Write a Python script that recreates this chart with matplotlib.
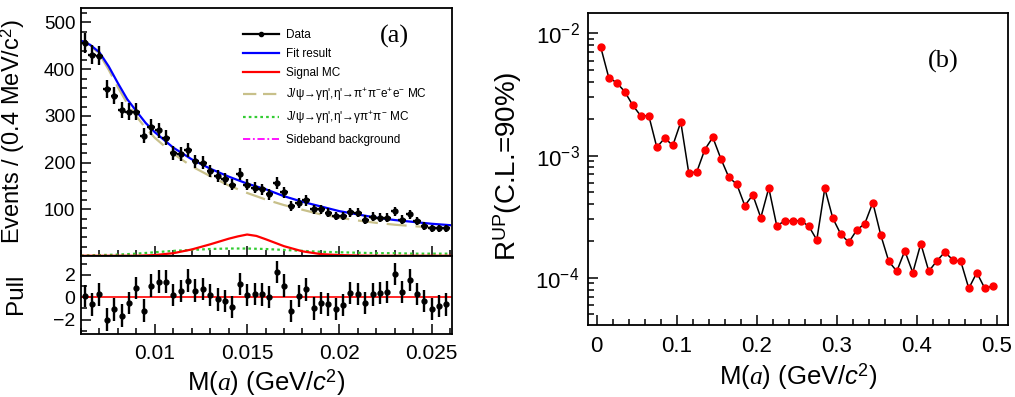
import numpy as np
import matplotlib
matplotlib.use("Agg")
import matplotlib.pyplot as plt
from matplotlib.lines import Line2D
from matplotlib.ticker import MultipleLocator, LogLocator, LogFormatterMathtext, NullFormatter

plt.rcParams["font.family"] = ["Liberation Sans", "DejaVu Sans"]
plt.rcParams["mathtext.fontset"] = "custom"
plt.rcParams["mathtext.rm"] = "Liberation Sans"
plt.rcParams["mathtext.it"] = "Liberation Serif:italic"
plt.rcParams["mathtext.sf"] = "Liberation Sans:italic"

# (a) M(a) spectrum, 0.4 MeV bins
bin_centers = np.round(np.arange(0.0062, 0.0260, 0.0004), 4)
events = [457, 431, 429, 358, 343, 313, 309, 309, 257, 276,
          269, 253, 221, 219, 226, 203, 200, 182, 171, 164,
          153, 175, 153, 146, 143, 132, 157, 136, 107, 114,
          119, 100, 100, 93, 86, 86, 94, 93, 78, 84,
          82, 82, 96, 78, 89, 75, 64, 59, 59, 59]
pulls = [0.1, -0.65, 0.25, -2.0, -1.1, -1.65, -0.5, 0.85, -1.2, 1.05,
         1.4, 1.4, 0.2, 0.55, 1.5, 0.6, 0.75, 0.2, -0.2, -0.35,
         -0.85, 1.2, 0.2, 0.3, 0.25, 0.0, 2.25, 1.05, -1.25, 0.1,
         0.7, -1.0, -0.5, -0.65, -1.05, -0.7, 0.4, 0.3, -0.5, 0.25,
         0.4, 0.5, 2.1, 0.5, 1.55, 0.3, -0.35, -1.05, -0.8, -0.65]

curve_x = [0.006, 0.0065, 0.007, 0.0075, 0.008, 0.0085, 0.009, 0.0095, 0.010,
           0.011, 0.012, 0.013, 0.014, 0.015, 0.016, 0.017, 0.018, 0.019,
           0.020, 0.021, 0.022, 0.023, 0.024, 0.025, 0.026]
fit_total = [461, 452, 436, 406, 370, 336, 310, 285, 265,
             232, 207, 187, 170, 155, 143, 128, 116, 106,
             96, 89, 82, 77, 73, 69, 66]
bkg_eeMC = [461, 452, 432, 399, 361, 327, 299, 274, 253,
            219, 192, 171, 151, 135, 121, 109, 99, 89,
            82, 76, 71, 67, 64, 61, 59]
bkg_gpipiMC = [1, 1.5, 2, 2.5, 3, 4, 5, 6.5, 8,
               11, 13, 15, 16, 16, 15, 13, 11, 9,
               8, 7, 6, 6, 5, 5, 5]
sideband = [0.8] * len(curve_x)

sig_x = [0.006, 0.009, 0.010, 0.011, 0.012, 0.013, 0.014, 0.0145, 0.015,
         0.0155, 0.016, 0.017, 0.018, 0.019, 0.020, 0.021, 0.022, 0.026]
signal_mc = [0.5, 0.5, 2, 6, 14, 25, 37, 42, 46,
             43, 36, 21, 10, 4, 2, 1, 0.5, 0.5]

# (b) upper limits on the ratio
mass_b = np.round(np.arange(0.005, 0.5, 0.01), 3)
r_up = [7.68e-3, 4.34e-3, 3.95e-3, 3.33e-3, 2.58e-3, 2.11e-3, 2.12e-3, 1.17e-3, 1.39e-3, 1.21e-3,
        1.88e-3, 7.18e-4, 7.36e-4, 1.12e-3, 1.41e-3, 9.45e-4, 6.65e-4, 5.82e-4, 3.89e-4, 4.76e-4,
        3.10e-4, 5.43e-4, 2.65e-4, 2.93e-4, 2.91e-4, 2.93e-4, 2.64e-4, 2.04e-4, 5.40e-4, 3.07e-4,
        2.27e-4, 1.95e-4, 2.46e-4, 2.77e-4, 4.12e-4, 2.23e-4, 1.36e-4, 1.13e-4, 1.66e-4, 1.10e-4,
        1.90e-4, 1.13e-4, 1.37e-4, 1.62e-4, 1.40e-4, 1.36e-4, 8.18e-5, 1.10e-4, 8.18e-5, 8.55e-5]

W, H = 1015, 397
fig = plt.figure(figsize=(W / 100, H / 100), dpi=100)


def px_axes(left, top, right, bottom):
    return fig.add_axes([left / W, 1 - bottom / H, (right - left) / W, (bottom - top) / H])


def style(ax, lw=1.3):
    for s in ax.spines.values():
        s.set_linewidth(lw)
    ax.tick_params(which="both", direction="in", top=False, right=False, width=1.1)
    ax.tick_params(which="major", length=7)
    ax.tick_params(which="minor", length=4)


ax_fit = px_axes(81, 8, 452, 256)
ax_pull = px_axes(81, 256, 452, 334)
ax_b = px_axes(588, 13, 1008, 325)

# fit panel
xerr = 0.0002
ax_fit.errorbar(bin_centers, events, xerr=xerr, yerr=np.sqrt(events), fmt="o", color="black",
                ms=3.5, elinewidth=1.7, capsize=0, zorder=5)
ax_fit.plot(curve_x, sideband, color="#FF00FF", lw=1.3, ls=(0, (5, 2, 1, 2)))
ax_fit.plot(curve_x, bkg_gpipiMC, color="#33CC33", lw=1.6, ls=(0, (1.2, 1.4)))
ax_fit.plot(sig_x, signal_mc, color="#FF0000", lw=1.6)
ax_fit.plot(curve_x, bkg_eeMC, color="#C8C08A", lw=1.6, ls=(0, (9, 4)))
ax_fit.plot(curve_x, fit_total, color="#0000FF", lw=1.6)
ax_fit.set_xlim(0.006, 0.0261)
ax_fit.set_ylim(0, 531)
ax_fit.yaxis.set_major_locator(MultipleLocator(100))
ax_fit.yaxis.set_minor_locator(MultipleLocator(20))
ax_fit.xaxis.set_major_locator(MultipleLocator(0.005))
ax_fit.xaxis.set_minor_locator(MultipleLocator(0.001))
ax_fit.set_yticks([100, 200, 300, 400, 500])
ax_fit.set_xticklabels([])
style(ax_fit)
ax_fit.tick_params(axis="y", labelsize=13.5, pad=4)
ax_fit.set_ylabel("Events / (0.4 MeV/c$^{2}$)", fontsize=17)
ax_fit.yaxis.set_label_coords(-0.145, 0.5)
ax_fit.text(0.845, 0.885, "(a)", transform=ax_fit.transAxes, fontsize=19,
            family="Liberation Serif", ha="center", va="center")

handles = [
    Line2D([], [], color="black", marker="o", ms=3, lw=1.6),
    Line2D([], [], color="#0000FF", lw=1.6),
    Line2D([], [], color="#FF0000", lw=1.6),
    Line2D([], [], color="#C8C08A", lw=1.6, ls=(0, (6, 3))),
    Line2D([], [], color="#33CC33", lw=1.6, ls=(0, (1.2, 1.4))),
    Line2D([], [], color="#FF00FF", lw=1.3, ls=(0, (4, 1.5, 1, 1.5))),
]
labels = [
    "Data",
    "Fit result",
    "Signal MC",
    "J/ψ→γη',η'→π$^{+}$π$^{-}$e$^{+}$e$^{-}$ MC",
    "J/ψ→γη',η'→γπ$^{+}$π$^{-}$ MC",
    "Sideband background",
]
ax_fit.legend(handles, labels, loc="upper left", bbox_to_anchor=(0.425, 0.935), frameon=False,
              fontsize=8.5, handlelength=3.0, handletextpad=0.6, labelspacing=0.62,
              borderaxespad=0)

# pull panel
ax_pull.axhline(0, color="#FF0000", lw=1.2)
ax_pull.errorbar(bin_centers, pulls, yerr=1, fmt="o", color="black", ms=3.5,
                 elinewidth=1.7, capsize=0, zorder=5)
ax_pull.set_xlim(0.006, 0.0261)
ax_pull.set_ylim(-3.3, 3.7)
ax_pull.set_yticks([-2, 0, 2])
ax_pull.yaxis.set_minor_locator(MultipleLocator(1))
ax_pull.xaxis.set_major_locator(MultipleLocator(0.005))
ax_pull.xaxis.set_minor_locator(MultipleLocator(0.001))
ax_pull.set_xticks([0.01, 0.015, 0.02, 0.025])
ax_pull.set_xticklabels(["0.01", "0.015", "0.02", "0.025"])
style(ax_pull)
ax_pull.tick_params(axis="y", labelsize=14, pad=4)
ax_pull.tick_params(axis="x", labelsize=15, pad=7)
ax_pull.set_ylabel("Pull", fontsize=17.5)
ax_pull.yaxis.set_label_coords(-0.145, 0.52)
ax_pull.set_xlabel("M($a$) (GeV/$\\mathsf{c}^{2}$)", fontsize=18.5, labelpad=3)

# upper limit panel
ax_b.plot(mass_b, r_up, color="black", lw=1.1, marker="o", ms=5,
          mfc="#FF0000", mec="#FF0000")
ax_b.set_yscale("log")
ax_b.set_xlim(-0.011, 0.514)
ax_b.set_ylim(4.1e-5, 1.47e-2)
ax_b.xaxis.set_major_locator(MultipleLocator(0.1))
ax_b.xaxis.set_minor_locator(MultipleLocator(0.02))
ax_b.set_xticks([0, 0.1, 0.2, 0.3, 0.4, 0.5])
ax_b.set_xticklabels(["0", "0.1", "0.2", "0.3", "0.4", "0.5"])
ax_b.yaxis.set_major_locator(LogLocator(base=10, numticks=10))
ax_b.yaxis.set_major_formatter(LogFormatterMathtext())
ax_b.yaxis.set_minor_locator(LogLocator(base=10, subs=np.arange(2, 10), numticks=20))
ax_b.yaxis.set_minor_formatter(NullFormatter())
style(ax_b)
ax_b.tick_params(labelsize=16, pad=6)
ax_b.tick_params(axis="x", pad=8)
ax_b.set_ylabel("R$^{\\mathrm{UP}}$(C.L.=90%)", fontsize=20)
ax_b.yaxis.set_label_coords(-0.152, 0.508)
ax_b.set_xlabel("M($a$) (GeV/$\\mathsf{c}^{2}$)", fontsize=18.5, labelpad=3)
ax_b.text(0.845, 0.845, "(b)", transform=ax_b.transAxes, fontsize=19,
          family="Liberation Serif", ha="center", va="center")

fig.savefig("out.png", dpi=100)
